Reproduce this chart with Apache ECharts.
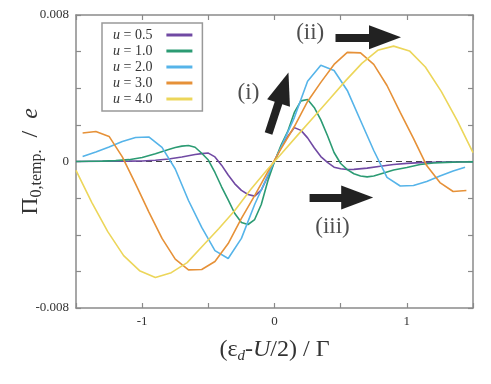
<!DOCTYPE html>
<html><head><meta charset="utf-8">
<script src="https://cdn.jsdelivr.net/npm/echarts@6/dist/echarts.min.js"></script>
<style>html,body{margin:0;padding:0;background:#fff}#c{width:491px;height:384px}</style>
</head><body><div id="c"></div><script>
// values of Pi_0,temp./e are listed in units of 1e-3
const UNIT = 1e-3;
const seriesNames = ['u = 0.5', 'u = 1.0', 'u = 2.0', 'u = 3.0', 'u = 4.0'];
const seriesColors = ['#7049a3', '#2b9b73', '#56b4e9', '#e69138', '#ecd65a'];

const xU05 = [-1.5,-1.3,-1.1,-1.0,-0.9,-0.8,-0.7,-0.6,-0.55,-0.5,-0.45,-0.4,-0.35,-0.3,-0.25,-0.2,-0.15,-0.1,-0.05,0,
  0.05,0.1,0.15,0.2,0.25,0.3,0.35,0.4,0.45,0.5,0.55,0.6,0.7,0.8,0.9,1.0,1.1,1.3,1.5];
const yU05 = [0,0.01,0.02,0.03,0.07,0.14,0.25,0.38,0.43,0.46,0.25,-0.2,-0.74,-1.22,-1.58,-1.8,-1.89,-1.56,-0.8,0,
  0.8,1.36,1.85,1.7,1.29,0.75,0.27,-0.05,-0.31,-0.4,-0.44,-0.43,-0.36,-0.26,-0.16,-0.1,-0.06,-0.03,-0.01];

const xU10 = [-1.5,-1.4,-1.3,-1.2,-1.1,-1.0,-0.9,-0.8,-0.75,-0.7,-0.65,-0.6,-0.55,-0.5,-0.45,-0.4,-0.35,-0.3,-0.25,-0.2,-0.15,-0.1,-0.05,0,
  0.05,0.1,0.15,0.2,0.25,0.3,0.35,0.4,0.45,0.5,0.55,0.6,0.65,0.7,0.75,0.8,0.9,1.0,1.1,1.2,1.3,1.4,1.5];
const yU10 = [0,0.01,0.02,0.05,0.1,0.22,0.42,0.66,0.76,0.84,0.87,0.78,0.45,0.08,-0.6,-1.38,-2.1,-2.84,-3.33,-3.44,-3.17,-2.35,-1.05,0,
  0.9,1.64,2.68,3.31,3.39,2.95,2.27,1.42,0.49,-0.11,-0.44,-0.67,-0.79,-0.84,-0.79,-0.68,-0.46,-0.33,-0.16,-0.08,-0.05,-0.03,-0.02];

const xU20 = [-1.45,-1.35,-1.25,-1.15,-1.05,-0.95,-0.85,-0.75,-0.65,-0.55,-0.45,-0.35,-0.25,-0.15,-0.05,
  0.05,0.15,0.25,0.35,0.45,0.55,0.65,0.75,0.85,0.95,1.05,1.15,1.25,1.35,1.44];
const yU20 = [0.27,0.52,0.79,1.09,1.31,1.34,0.77,-0.41,-2.13,-3.6,-4.87,-5.3,-4.2,-2.35,-0.75,
  0.79,2.4,4.38,5.25,4.97,3.88,2.24,0.6,-0.87,-1.34,-1.31,-1.09,-0.79,-0.52,-0.31];

const xU30 = [-1.45,-1.35,-1.25,-1.15,-1.05,-0.95,-0.85,-0.75,-0.65,-0.55,-0.45,-0.35,-0.25,-0.15,-0.05,
  0.05,0.15,0.25,0.35,0.45,0.55,0.65,0.75,0.85,0.95,1.05,1.15,1.25,1.35,1.45];
const yU30 = [1.56,1.64,1.37,0.25,-1.22,-2.75,-4.2,-5.33,-5.92,-5.9,-5.46,-4.48,-3.11,-1.86,-0.55,
  0.7,1.91,3.28,4.32,5.3,5.96,5.93,5.3,4.15,2.68,1.26,-0.22,-1.15,-1.64,-1.58];

const xU40 = [-1.5,-1.38,-1.26,-1.14,-1.02,-0.9,-0.78,-0.66,-0.54,-0.42,-0.3,-0.18,-0.06,
  0.06,0.18,0.3,0.42,0.54,0.66,0.78,0.9,1.02,1.14,1.26,1.38,1.5];
const yU40 = [-0.49,-2.24,-3.83,-5.14,-5.96,-6.34,-6.07,-5.52,-4.59,-3.66,-2.68,-1.53,-0.49,
  0.49,1.48,2.46,3.44,4.43,5.36,6.07,6.3,6.04,5.16,3.83,2.24,0.49];

const seriesX = [xU05, xU10, xU20, xU30, xU40];
const seriesY = [yU05, yU10, yU20, yU30, yU40];

const xTicks = [-1.5, 1.5, 0.5];       // min, max, interval
const yTicks = [-0.008, 0.008, 0.002]; // min, max, interval
const zeroLineX = [-1.5, 1.5];

// annotation arrows: [x, y(1e-3)]
const arrowTail = [[-0.045, 1.53], [0.461, 6.78], [0.265, -1.97]];
const arrowHead = [[0.068, 4.03], [0.835, 6.78], [0.625, -1.97]];
const annText = ['(i)', '(ii)', '(iii)'];
const annX = [-0.197, 0.27, 0.438];
const annY = [3.72, 7.0, -3.6];

const SERIF = '"Liberation Serif", "DejaVu Serif", serif';
const chart = echarts.init(document.getElementById('c'), null, {renderer: 'canvas'});

const axisCommon = {
  axisLine: {show: true, onZero: false, lineStyle: {color: '#8a8a8a', width: 1.5}},
  axisTick: {show: true, inside: true, length: 5, lineStyle: {color: '#8a8a8a', width: 1.2}},
  splitLine: {show: false}
};

const lines = seriesNames.map((n, i) => ({
  name: n, type: 'line', showSymbol: false, symbol: 'none',
  data: seriesX[i].map((x, k) => [x, seriesY[i][k] * UNIT]),
  lineStyle: {color: seriesColors[i], width: 1.6},
  itemStyle: {color: seriesColors[i]},
  z: 3 + i
}));

const option = {
  animation: false,
  backgroundColor: '#fff',
  grid: {left: 76, right: 18, top: 15, bottom: 76, containLabel: false},
  legend: {
    data: seriesNames, orient: 'vertical', left: 102, top: 23,
    padding: [4, 10, 4, 11], itemGap: 0, itemWidth: 26, itemHeight: 3, icon: 'rect',
    align: 'right', selectedMode: false,
    borderColor: '#999', borderWidth: 1.5, backgroundColor: '#fff',
    formatter: n => '{i|u}' + n.slice(1),
    textStyle: {fontFamily: SERIF, fontSize: 14, color: '#333', lineHeight: 16, padding: [0, 9, 0, 0],
      rich: {i: {fontFamily: SERIF, fontSize: 14, fontStyle: 'italic', color: '#333', lineHeight: 16}}}
  },
  xAxis: [
    Object.assign({
      type: 'value', min: xTicks[0], max: xTicks[1], interval: xTicks[2], position: 'bottom',
      axisLabel: {show: true, margin: 7, fontFamily: SERIF, fontSize: 13, color: '#333',
        formatter: v => (Math.abs(v - Math.round(v)) < 1e-9 ? String(Math.round(v)) : '')},
      name: '{a|(ε}{s|d}{a|-}{i|U}{a|/2) / Γ}', nameLocation: 'middle', nameGap: 28,
      nameTextStyle: {fontFamily: SERIF, color: '#333', rich: {
        a: {fontFamily: SERIF, fontSize: 24, lineHeight: 28, color: '#333'},
        i: {fontFamily: SERIF, fontSize: 24, lineHeight: 28, fontStyle: 'italic', color: '#333'},
        s: {fontFamily: SERIF, fontSize: 15, lineHeight: 12, fontStyle: 'italic', verticalAlign: 'bottom', color: '#333'}
      }}
    }, axisCommon),
    Object.assign({
      type: 'value', min: xTicks[0], max: xTicks[1], interval: xTicks[2], position: 'top',
      axisLabel: {show: false}
    }, axisCommon)
  ],
  yAxis: [
    Object.assign({
      type: 'value', min: yTicks[0], max: yTicks[1], interval: yTicks[2], position: 'left',
      axisLabel: {show: true, margin: 7, fontFamily: SERIF, fontSize: 13, color: '#333',
        formatter: v => (Math.abs(v) < 1e-9 ? '0' : (Math.abs(Math.abs(v) - 0.008) < 1e-6 ? v.toFixed(3) : ''))},
      name: '{a|Π}{s|0,temp.}{a|  /  }{i|e}', nameLocation: 'middle', nameGap: 31, nameRotate: 90,
      nameMoveOverlap: false,
      nameTextStyle: {fontFamily: SERIF, color: '#333', rich: {
        a: {fontFamily: SERIF, fontSize: 24, lineHeight: 28, color: '#333'},
        i: {fontFamily: SERIF, fontSize: 24, lineHeight: 28, fontStyle: 'italic', color: '#333'},
        s: {fontFamily: SERIF, fontSize: 16, lineHeight: 12, verticalAlign: 'bottom', color: '#333'}
      }}
    }, axisCommon),
    Object.assign({
      type: 'value', min: yTicks[0], max: yTicks[1], interval: yTicks[2], position: 'right',
      axisLabel: {show: false}
    }, axisCommon)
  ],
  series: [
    {
      name: 'zero', type: 'line', symbol: 'none', silent: true, z: 2,
      data: zeroLineX.map(x => [x, 0]),
      lineStyle: {color: '#444', width: 1, type: [6, 4]},
      markLine: {
        silent: true, symbol: ['none', 'triangle'], symbolSize: [24, 32],
        label: {show: false}, emphasis: {disabled: true},
        lineStyle: {color: '#222', width: 8, type: 'solid', opacity: 1},
        data: arrowTail.map((t, i) => [
          {coord: [t[0], t[1] * UNIT]},
          {coord: [arrowHead[i][0], arrowHead[i][1] * UNIT]}
        ])
      }
    },
    ...lines,
    {
      name: 'annotations', type: 'scatter', symbol: 'circle', symbolSize: 1, silent: true, z: 20,
      itemStyle: {color: 'rgba(0,0,0,0)'},
      data: annText.map((t, i) => ({value: [annX[i], annY[i] * UNIT], name: t})),
      label: {show: true, position: 'inside', formatter: p => p.name,
        fontFamily: SERIF, fontSize: 23, color: '#222'}
    }
  ]
};
chart.setOption(option);
</script></body></html>
